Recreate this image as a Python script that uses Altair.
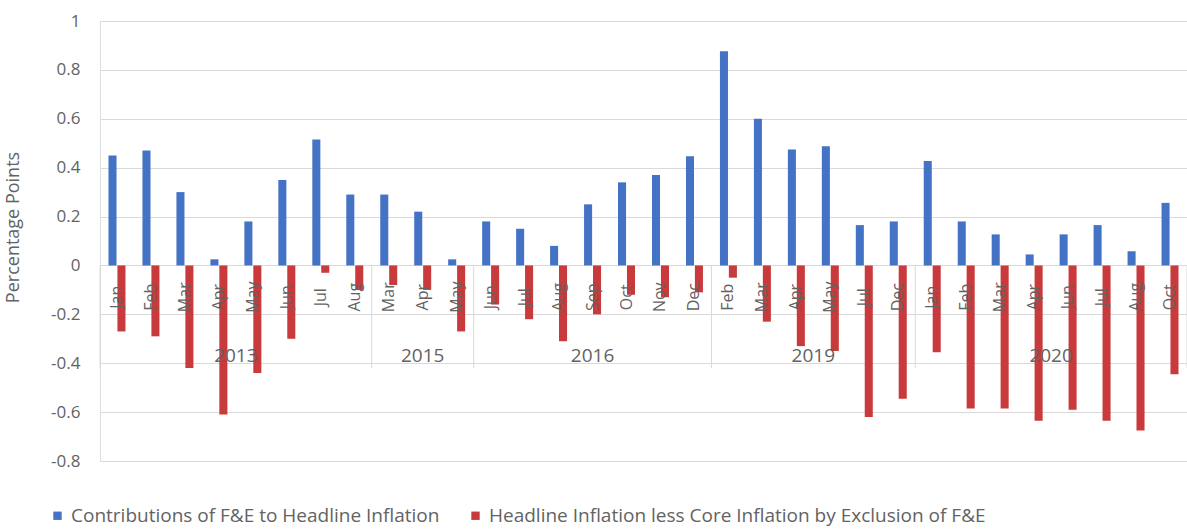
import altair as alt
import pandas as pd

months = ["Jan", "Feb", "Mar", "Apr", "May", "Jun", "Jul", "Aug",
          "Mar", "Apr", "May",
          "Jun", "Jul", "Aug", "Sep", "Oct", "Nov", "Dec",
          "Feb", "Mar", "Apr", "May", "Jul", "Dec",
          "Jan", "Feb", "Mar", "Apr", "Jun", "Jul", "Aug", "Oct"]
years = ["2013", "2013", "2013", "2013", "2013", "2013", "2013", "2013",
         "2015", "2015", "2015",
         "2016", "2016", "2016", "2016", "2016", "2016", "2016",
         "2019", "2019", "2019", "2019", "2019", "2019",
         "2020", "2020", "2020", "2020", "2020", "2020", "2020", "2020"]
contrib = [0.45, 0.47, 0.30, 0.025, 0.18, 0.35, 0.515, 0.29,
           0.29, 0.22, 0.025,
           0.18, 0.15, 0.08, 0.25, 0.34, 0.37, 0.447,
           0.876, 0.60, 0.474, 0.488, 0.165, 0.18,
           0.427, 0.18, 0.127, 0.045, 0.127, 0.165, 0.058, 0.256]
diff = [-0.27, -0.29, -0.42, -0.61, -0.44, -0.30, -0.03, -0.10,
        -0.08, -0.10, -0.27,
        -0.16, -0.22, -0.31, -0.20, -0.12, -0.13, -0.11,
        -0.05, -0.23, -0.33, -0.35, -0.62, -0.545,
        -0.355, -0.585, -0.585, -0.635, -0.59, -0.635, -0.675, -0.445]
series_names = ["Contributions of F&E to Headline Inflation",
                "Headline Inflation less Core Inflation by Exclusion of F&E"]
series_colors = ["#4472C4", "#C83A3B"]
y_ticks = [-0.8, -0.6, -0.4, -0.2, 0, 0.2, 0.4, 0.6, 0.8, 1]

FONT = "Open Sans"
GREY = "#636363"
GRID = "#d9d9d9"

keys = [f"{y}-{m}-{i}" for i, (y, m) in enumerate(zip(years, months))]

bars_df = pd.DataFrame({
    "key": keys * 2,
    "series": [series_names[0]] * len(keys) + [series_names[1]] * len(keys),
    "value": contrib + diff,
})
months_df = pd.DataFrame({"key": keys, "month": months})

# year groups: start/end positions (in category units)
yr_rows = []
for i, y in enumerate(years):
    if not yr_rows or yr_rows[-1]["year"] != y:
        yr_rows.append({"year": y, "start": i, "end": i + 1})
    else:
        yr_rows[-1]["end"] = i + 1
year_df = pd.DataFrame(yr_rows)
year_df["mid"] = (year_df["start"] + year_df["end"]) / 2
bounds_df = pd.DataFrame({"b": sorted(set(year_df["start"]).union(year_df["end"]))})

y_scale = alt.Scale(domain=[-0.8, 1], nice=False, zero=False)
y_axis = alt.Axis(
    values=y_ticks, title="Percentage Points", grid=True, gridColor=GRID,
    domain=False, ticks=False, labelPadding=20, labelFontSize=17,
    labelColor=GREY, labelFont=FONT, titleFont=FONT, titleFontSize=18,
    titleColor=GREY, titleFontWeight="normal", titleX=-78, titleY=206,
    labelExpr="(datum.value < 0 ? '-' : '') + format(abs(datum.value), '.1~f')",
)

x_band = alt.X("key:N", sort=keys, axis=None,
               scale=alt.Scale(paddingInner=0, paddingOuter=0))

bars = alt.Chart(bars_df).mark_bar().encode(
    x=x_band,
    xOffset=alt.XOffset("series:N", sort=series_names,
                        scale=alt.Scale(paddingInner=0.1, paddingOuter=0.95)),
    y=alt.Y("value:Q", scale=y_scale, axis=y_axis),
    color=alt.Color(
        "series:N", sort=series_names,
        scale=alt.Scale(domain=series_names, range=series_colors),
        legend=alt.Legend(
            title=None, orient="none", direction="horizontal",
            legendX=-52, legendY=485, symbolType="square", symbolSize=70,
            labelFont=FONT, labelFontSize=19, labelColor=GREY,
            labelLimit=900, columnPadding=26, padding=0, symbolStrokeWidth=0,
        ),
    ),
)

month_text = alt.Chart(months_df).mark_text(
    angle=270, align="center", baseline="middle", font=FONT,
    fontSize=16, color=GREY,
).encode(
    x=x_band,
    y=alt.datum(-0.13),
    text="month:N",
)

x_lin = alt.Scale(domain=[0, len(keys)], nice=False, zero=False)

seps = alt.Chart(bounds_df).mark_rule(color=GRID, strokeWidth=1).encode(
    x=alt.X("b:Q", scale=x_lin, axis=None),
    y=alt.datum(0),
    y2=alt.datum(-0.42),
)

year_text = alt.Chart(year_df).mark_text(
    align="center", baseline="middle", font=FONT, fontSize=19, color=GREY,
).encode(
    x=alt.X("mid:Q", scale=x_lin, axis=None),
    y=alt.datum(-0.37),
    text="year:N",
)

chart = alt.layer(bars, month_text, seps, year_text).resolve_scale(
    x="independent"
).properties(
    width=1087, height=440,
    autosize=alt.AutoSizeParams(type="none"),
    padding={"left": 100, "top": 21, "right": 0, "bottom": 68},
).configure_view(stroke=None).configure(background="white")

chart.save("out.html", embed_options={"renderer": "svg", "actions": False})
